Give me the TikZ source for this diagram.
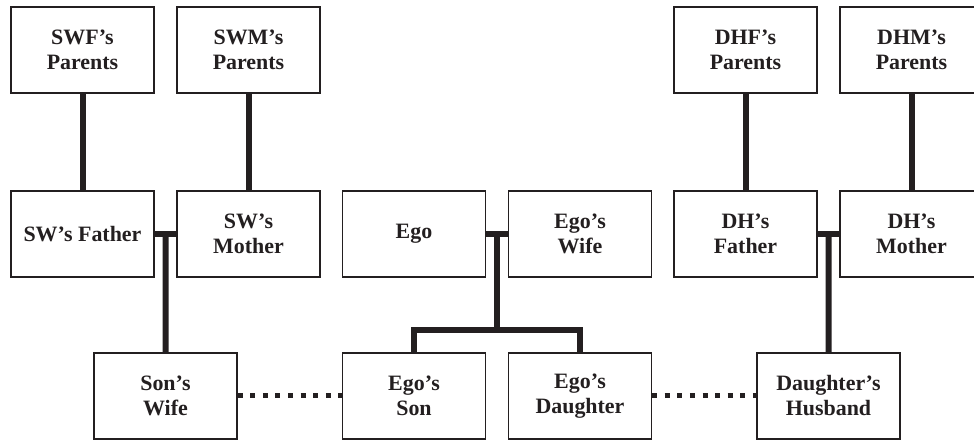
\documentclass[tikz,border=0pt]{standalone}
\usepackage{fontspec}
\setmainfont{Liberation Serif}
\usepackage{tikz}
\usetikzlibrary{positioning,calc}
\definecolor{kinblack}{RGB}{35, 31, 32}

\begin{document}
\begin{tikzpicture}[
    % Box and line styles for the kinship chart
    person/.style={rectangle, draw=kinblack, line width=0.9pt, fill=white, minimum width=3.575cm, minimum height=2.15cm, inner sep=0pt, align=center, font=\fontsize{15.6}{17.8}\selectfont\bfseries, text=kinblack},
    link/.style={line width=0.15cm, color=kinblack},
    inlaw/.style={line width=0.125cm, color=kinblack, dash pattern=on 0.125cm off 0.19cm}
]
\clip (0,0) rectangle (24.35,11);

% Row 1: grandparents
\node [person] (swfparents) at (2.0625,9.75) {SWF's\\Parents};
\node [person] (swmparents) at (6.2125,9.75) {SWM's\\Parents};
\node [person] (dhfparents) at (18.6375,9.75) {DHF's\\Parents};
\node [person] (dhmparents) at (22.7875,9.75) {DHM's\\Parents};

% Row 2: the three couples
\node [person] (swfather) at (2.0625,5.15) {SW's Father};
\node [person] (swmother) at (6.2125,5.15) {SW's\\Mother};
\node [person] (ego) at (10.35,5.15) {Ego};
\node [person] (egowife) at (14.5,5.15) {Ego's\\Wife};
\node [person] (dhfather) at (18.6375,5.15) {DH's\\Father};
\node [person] (dhmother) at (22.7875,5.15) {DH's\\Mother};

% Row 3: children
\node [person] (sonwife) at (4.1375,1.1) {Son's\\Wife};
\node [person] (egoson) at (10.35,1.1) {Ego's\\Son};
\node [person] (egodaughter) at (14.5,1.1) {Ego's\\Daughter};
\node [person] (dauhusband) at (20.7125,1.1) {Daughter's\\Husband};

% Marriage points and sibling fork
\coordinate (swcouple) at ($(swfather.east)!0.5!(swmother.west)$);
\coordinate (egocouple) at ($(ego.east)!0.5!(egowife.west)$);
\coordinate (dhcouple) at ($(dhfather.east)!0.5!(dhmother.west)$);
\coordinate (fork) at ($(egocouple)+(0,-2.4)$);

% Descent from the grandparents
\draw [link] (swfparents) -- (swfather);
\draw [link] (swmparents) -- (swmother);
\draw [link] (dhfparents) -- (dhfather);
\draw [link] (dhmparents) -- (dhmother);

% Marriages
\draw [link] (swfather) -- (swmother);
\draw [link] (ego) -- (egowife);
\draw [link] (dhfather) -- (dhmother);

% Children of each couple
\draw [link] (swcouple) -- (sonwife.north);
\draw [link] (dhcouple) -- (dauhusband.north);
\draw [link] (egocouple) -- (fork);
\draw [link] (egoson.north) |- (fork) -| (egodaughter.north);

% In-law ties
\draw [inlaw] (sonwife) -- (egoson);
\draw [inlaw] (egodaughter) -- (dauhusband);

\end{tikzpicture}
\end{document}
